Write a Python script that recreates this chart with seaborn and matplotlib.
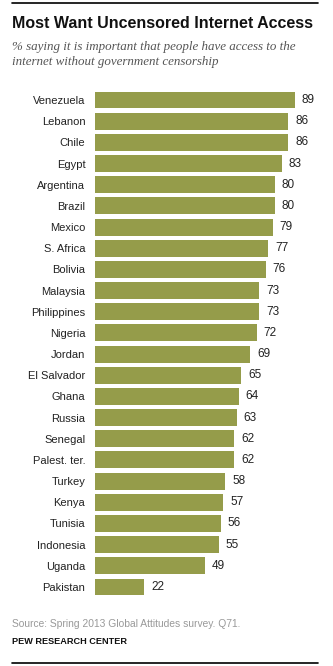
import matplotlib
matplotlib.use("Agg")
import matplotlib.pyplot as plt
import seaborn as sns
import pandas as pd
from matplotlib.lines import Line2D

countries = ["Venezuela", "Lebanon", "Chile", "Egypt", "Argentina", "Brazil", "Mexico",
             "S. Africa", "Bolivia", "Malaysia", "Philippines", "Nigeria", "Jordan",
             "El Salvador", "Ghana", "Russia", "Senegal", "Palest. ter.", "Turkey",
             "Kenya", "Tunisia", "Indonesia", "Uganda", "Pakistan"]
values = [89, 86, 86, 83, 80, 80, 79, 77, 76, 73, 73, 72, 69, 65, 64, 63, 62, 62,
          58, 57, 56, 55, 49, 22]

df = pd.DataFrame({"country": countries, "value": values})

sns.set_theme(style="white")
plt.rcParams['font.family'] = ['Liberation Sans', 'DejaVu Sans']

W, H = 333, 666
fig = plt.figure(figsize=(W / 100, H / 100), dpi=100)
ax = fig.add_axes([95 / W, 1 - 597.6 / H, 224.7 / W, 508.2 / H])

bar_color = "#959C4A"
sns.barplot(data=df, x="value", y="country", orient="h", color=bar_color,
            width=0.8, saturation=1, linewidth=0, edgecolor="none", ax=ax)
ax.set_xlim(0, 100)
ax.set_ylim(23.5, -0.5)
ax.set_xlabel("")
ax.set_ylabel("")
ax.set_xticks([])
ax.tick_params(axis="y", length=0, pad=7, labelsize=8, labelcolor="#222222")
for s in ax.spines.values():
    s.set_visible(False)

for i, v in enumerate(values):
    ax.annotate(str(v), xy=(v, i), xytext=(5, 0), textcoords="offset points",
                va="center", ha="left", fontsize=8.5, color="#222222")

fig.text(12 / W, 1 - 24 / H, "Most Want Uncensored Internet Access", fontsize=11.5,
         fontweight="bold", ha="left", va="center", color="#111111")
fig.text(12 / W, 1 - 47 / H, "% saying it is important that people have access to the",
         fontsize=9.4, style="italic", family="Liberation Serif", ha="left", va="center", color="#555555")
fig.text(12 / W, 1 - 62 / H, "internet without government censorship",
         fontsize=9.4, style="italic", family="Liberation Serif", ha="left", va="center", color="#555555")
fig.text(12 / W, 1 - 624 / H, "Source: Spring 2013 Global Attitudes survey. Q71.",
         fontsize=7.4, ha="left", va="center", color="#999999")
fig.text(12 / W, 1 - 642 / H, "PEW RESEARCH CENTER",
         fontsize=6.6, fontweight="bold", ha="left", va="center", color="#111111")

fig.add_artist(Line2D([12 / W, 318 / W], [1 - 3 / H, 1 - 3 / H], color="black", lw=1.2))
fig.add_artist(Line2D([12 / W, 318 / W], [1 - 663 / H, 1 - 663 / H], color="black", lw=1.2))

fig.savefig("out.png", dpi=100)
